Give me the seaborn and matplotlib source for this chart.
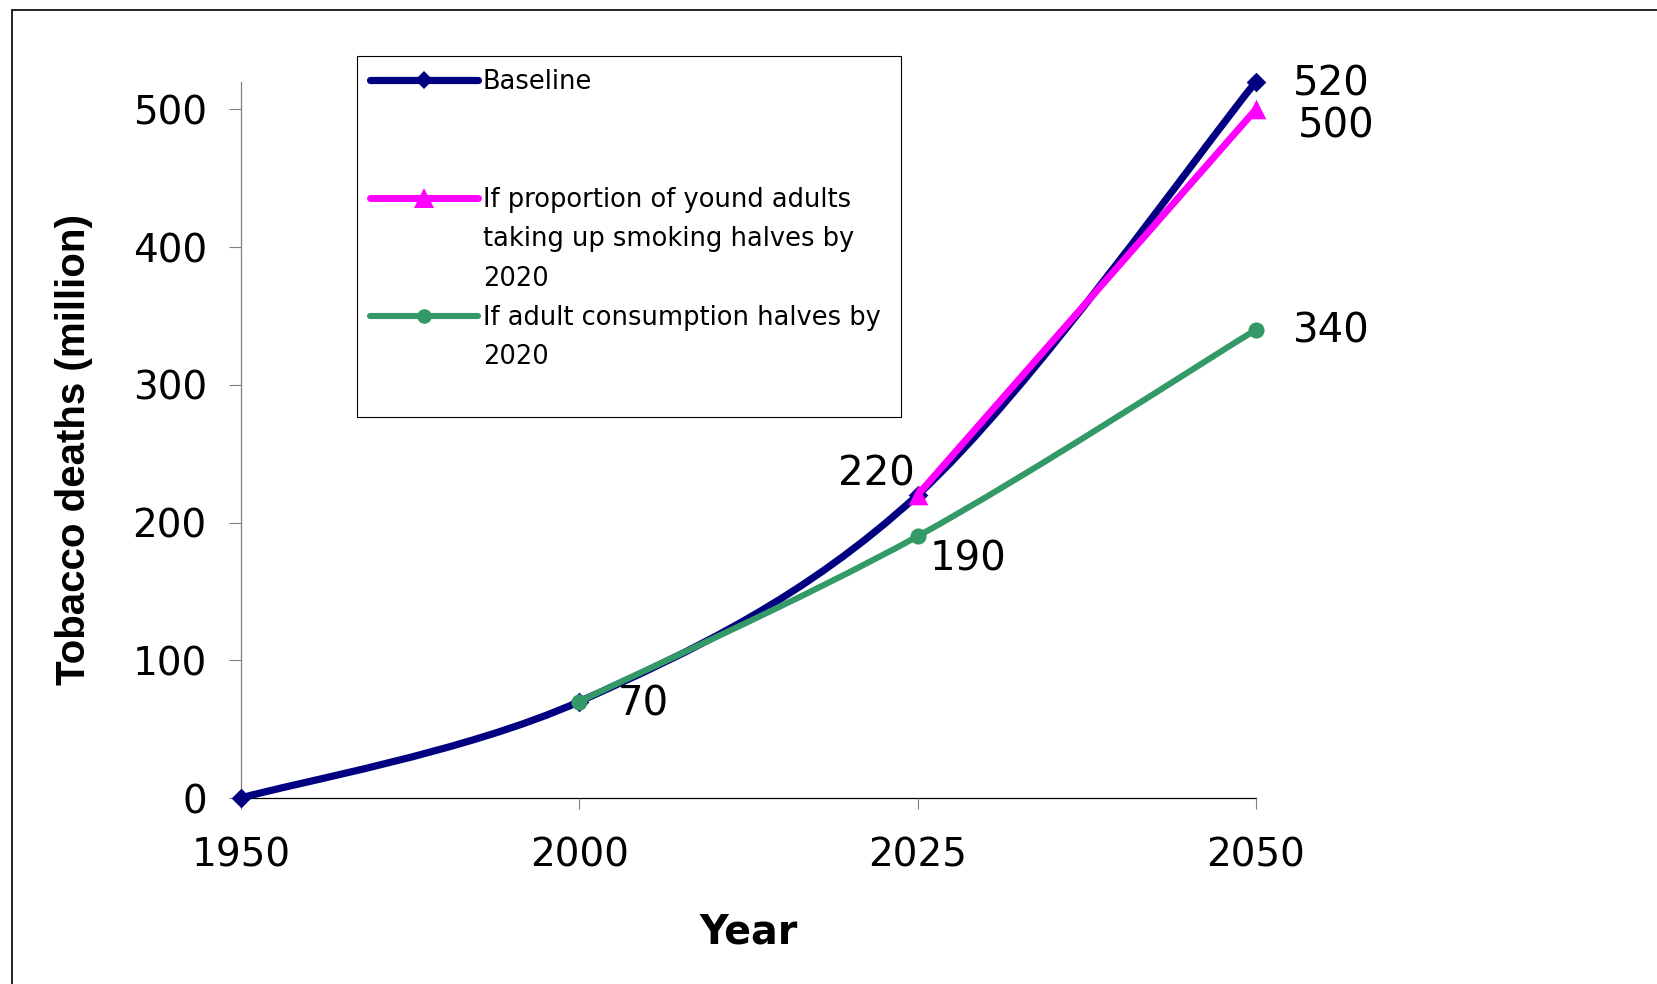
import numpy as np
import matplotlib
matplotlib.use("Agg")
import matplotlib.pyplot as plt
from matplotlib.path import Path
from matplotlib.patches import PathPatch, Rectangle
from matplotlib.lines import Line2D
import seaborn as sns

# ---- data ----
years = ["1950", "2000", "2025", "2050"]
baseline_years = ["1950", "2000", "2025", "2050"]
baseline_vals = [0, 70, 220, 520]
young_years = ["2025", "2050"]
young_vals = [220, 500]
adult_years = ["2000", "2025", "2050"]
adult_vals = [70, 190, 340]
yticks = [0, 100, 200, 300, 400, 500]

legend_lines = [["Baseline", " ", " "],
                ["If proportion of yound adults", "taking up smoking halves by", "2020"],
                ["If adult consumption halves by", "2020", " "]]

# ---- style ----
sns.set_theme(style="white")
plt.rcParams['font.family'] = ['DejaVu Sans']
plt.rcParams['text.color'] = 'black'
plt.rcParams['axes.labelcolor'] = 'black'
plt.rcParams['xtick.labelcolor'] = 'black'
plt.rcParams['ytick.labelcolor'] = 'black'

colors = ["#000080", "#FF00FF", "#339966"]
markers = ["D", "^", "o"]
scatter_sizes = [100, 200, 135]
legend_ms = [9.5, 14, 10.5]
line_widths = [5.2, 5.0, 4.4]

fig = plt.figure(figsize=(16.57, 9.84), dpi=100)
ax = fig.add_axes([0.14545, 0.18902, 0.61255, 0.72795])


def smooth_path(xs, ys):
    pts = np.column_stack([xs, ys]).astype(float)
    n = len(pts)
    verts = [pts[0]]
    codes = [Path.MOVETO]
    for i in range(n - 1):
        p0 = pts[i - 1] if i > 0 else pts[i]
        p1 = pts[i]
        p2 = pts[i + 1]
        p3 = pts[i + 2] if i + 2 < n else pts[i + 1]
        c1 = p1 + (p2 - p0) / 6.0
        c2 = p2 - (p3 - p1) / 6.0
        verts += [c1, c2, p2]
        codes += [Path.CURVE4] * 3
    return Path(np.array(verts), codes)


all_series = [(baseline_years, baseline_vals),
              (young_years, young_vals),
              (adult_years, adult_vals)]

for k, (yrs, vals) in enumerate(all_series):
    xpos = [years.index(y) for y in yrs]
    patch = PathPatch(smooth_path(xpos, vals), facecolor="none",
                      edgecolor=colors[k], lw=line_widths[k],
                      capstyle="round", joinstyle="round",
                      transform=ax.transData, zorder=2 + k, clip_on=False)
    ax.add_patch(patch)
    sns.scatterplot(x=xpos, y=vals, marker=markers[k], s=scatter_sizes[k],
                    color=colors[k], edgecolor=colors[k], linewidth=0,
                    ax=ax, zorder=2.5 + k, clip_on=False, legend=False)

# ---- data labels ----
label_specs = [  # (series index, year, offset in points)
    (0, "2000", (46, -10)),
    (0, "2025", (-30, 6.5)),
    (2, "2025", (36, -24.5)),
    (0, "2050", (54, -10)),
    (1, "2050", (57.6, -20.3)),
    (2, "2050", (54, -9.3)),
]
for k, yr, off in label_specs:
    yrs, vals = all_series[k]
    v = vals[yrs.index(yr)]
    ax.annotate(f"{v}", xy=(years.index(yr), v), xytext=off,
                textcoords="offset points", ha="center", va="baseline",
                fontsize=29, color="black", zorder=10, annotation_clip=False)

# ---- axes ----
ax.set_xlim(0, len(years) - 1)
ax.set_ylim(0, 520)
ax.set_xticks(range(len(years)))
ax.set_xticklabels(years)
ax.set_yticks(yticks)
ax.set_yticklabels([str(t) for t in yticks])

for s in ["top", "right"]:
    ax.spines[s].set_visible(False)
ax.spines["left"].set_color("#808080")
ax.spines["left"].set_linewidth(0.9)
ax.spines["bottom"].set_color("#000000")
ax.spines["bottom"].set_linewidth(0.9)
ax.spines["left"].set_zorder(0.5)
ax.spines["bottom"].set_zorder(0.5)

ax.tick_params(axis="y", direction="out", length=8.6, width=0.8,
               color="#808080", labelsize=28, pad=16, left=True,
               labelcolor="black")
ax.tick_params(axis="x", direction="out", length=8, width=0.8,
               color="#808080", labelsize=28, pad=20, bottom=True,
               labelcolor="black")
ax.grid(False)

ax.set_xlabel("Year", fontsize=28.5, fontweight="bold", va="top", color="black")
ax.xaxis.set_label_coords(0.5, -0.1605)
ax.set_ylabel("Tobacco deaths (million)", fontsize=29, fontweight="bold",
              family=["Liberation Sans", "DejaVu Sans"], color="black")
ax.yaxis.set_label_coords(-0.146, 0.486)

# ---- legend ----
handles = []
labels = []
blank = Line2D([], [], color="none", linestyle="none")
for k in range(3):
    h = Line2D([], [], color=colors[k], lw=line_widths[k], marker=markers[k],
               markersize=legend_ms[k], markeredgewidth=0,
               solid_capstyle="round")
    for j, txt in enumerate(legend_lines[k]):
        handles.append(h if j == 0 else blank)
        labels.append(txt)

leg = ax.legend(handles, labels, loc="upper left",
                bbox_to_anchor=(357 / 1657, 0.3, (901 - 357) / 1657, (1 - 56 / 984) - 0.3),
                bbox_transform=fig.transFigure, mode="expand", borderaxespad=0,
                fontsize=18.5, labelspacing=0.52, handlelength=4.2,
                handletextpad=0.2, borderpad=0.5, frameon=True,
                fancybox=False, framealpha=1, edgecolor="#000000")
leg.get_frame().set_linewidth(0.8)
leg.set_zorder(20)
for t in leg.get_texts():
    t.set_color("black")
leg.get_texts()[-1].set_fontsize(7)

# ---- outer frame ----
fig.patches.append(Rectangle((11.7 / 1657, -0.1), 1.2, (1 - 9.5 / 984) + 0.1,
                             transform=fig.transFigure, fill=False,
                             edgecolor="#111111", lw=1.3, zorder=0))

fig.savefig("out.png", dpi=100)
